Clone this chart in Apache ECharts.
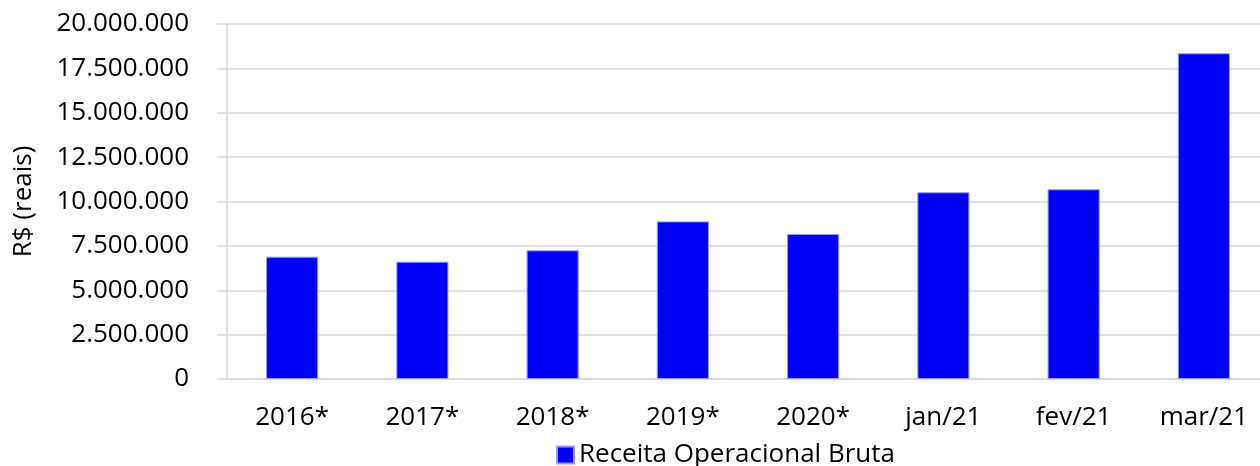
<!DOCTYPE html>
<html>
<head>
<meta charset="utf-8">
<script src="https://cdn.jsdelivr.net/npm/echarts@6/dist/echarts.min.js"></script>
<style>
  html, body { margin: 0; padding: 0; background: #fff; overflow: hidden; }
  #chart { width: 1269px; height: 466px; }
</style>
</head>
<body>
<div id="chart"></div>
<script>
var categories = ['2016*', '2017*', '2018*', '2019*', '2020*', 'jan/21', 'fev/21', 'mar/21'];
var receita = [6890000, 6610000, 7250000, 8880000, 8170000, 10520000, 10690000, 18350000];
var seriesName = 'Receita Operacional Bruta';
var yName = 'R$ (reais)';

function fmt(v) {
    // separador de milhar com ponto
    return String(v).replace(/\B(?=(\d{3})+(?!\d))/g, '.');
}

var font = '"Open Sans", sans-serif';
var grey = '#d9d9d9';

// o grafico original passa um pouco da borda direita
var myChart = echarts.init(document.getElementById('chart'));
var option = {
    animation: false,
    textStyle: { fontFamily: font },
    grid: { left: 227, top: 24, right: 0, bottom: 87 },
    legend: {
        left: 556,
        top: 442,
        padding: 0,
        itemWidth: 17,
        itemHeight: 17,
        itemGap: 8,
        icon: 'rect',
        textStyle: { fontFamily: font, fontSize: 26, color: '#000' },
        data: [seriesName]
    },
    xAxis: {
        type: 'category',
        data: categories,
        axisLine: { lineStyle: { color: grey, width: 1.5 } },
        axisTick: { length: 9, lineStyle: { color: grey, width: 1.5 } },
        axisLabel: { color: '#000', fontFamily: font, fontSize: 26, margin: 26 }
    },
    yAxis: {
        type: 'value',
        min: 0,
        max: 20000000,
        interval: 2500000,
        name: yName,
        nameLocation: 'middle',
        nameGap: 190,
        nameTextStyle: { fontFamily: font, fontSize: 26, color: '#000' },
        axisLine: { show: true, lineStyle: { color: grey, width: 1.5 } },
        axisTick: { show: true, length: 10, lineStyle: { color: grey, width: 1.5 } },
        axisLabel: { color: '#000', fontFamily: font, fontSize: 26, margin: 38, formatter: fmt },
        splitLine: { lineStyle: { color: grey, width: 1.5 } }
    },
    series: [{
        name: seriesName,
        type: 'bar',
        barWidth: '40%',
        data: receita,
        itemStyle: { color: '#0000ff', borderColor: '#9999ff', borderWidth: 1 }
    }]
};
myChart.setOption(option);
</script>
</body>
</html>
